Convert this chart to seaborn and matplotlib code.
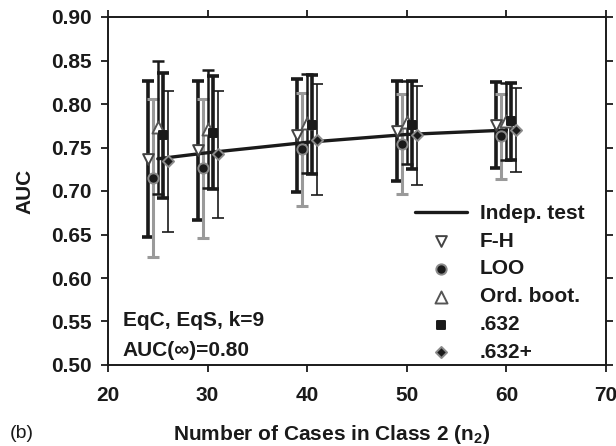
import matplotlib
matplotlib.use("Agg")
import matplotlib.pyplot as plt
import seaborn as sns
import numpy as np

# data
n2 = [25, 30, 40, 50, 60]
indep = [0.737, 0.744, 0.756, 0.765, 0.770]

fh_mean = [0.737, 0.747, 0.764, 0.769, 0.776]
fh_sd = [0.090, 0.080, 0.065, 0.057, 0.049]
loo_mean = [0.715, 0.726, 0.748, 0.754, 0.763]
loo_sd = [0.091, 0.080, 0.065, 0.057, 0.049]
ob_mean = [0.773, 0.771, 0.778, 0.779, 0.780]
ob_sd = [0.076, 0.068, 0.057, 0.048, 0.044]
p632_mean = [0.764, 0.767, 0.776, 0.776, 0.780]
p632_sd = [0.072, 0.065, 0.057, 0.051, 0.044]
p632p_mean = [0.734, 0.742, 0.759, 0.764, 0.770]
p632p_sd = [0.081, 0.073, 0.064, 0.057, 0.048]

x_ticks = [20, 30, 40, 50, 60, 70]
y_ticks = [0.50, 0.55, 0.60, 0.65, 0.70, 0.75, 0.80, 0.85, 0.90]

sns.set_theme(style="ticks")
plt.rcParams["font.family"] = ["Liberation Sans", "DejaVu Sans"]
plt.rcParams["font.weight"] = "bold"
plt.rcParams["mathtext.fontset"] = "custom"
plt.rcParams["mathtext.bf"] = "Liberation Sans:bold"
plt.rcParams["mathtext.rm"] = "Liberation Sans:bold"
plt.rcParams["mathtext.it"] = "Liberation Sans:bold"

fig = plt.figure(figsize=(6.16, 4.46), dpi=100)
ax = fig.add_axes([108 / 616, 1 - 365 / 446, 498 / 616, 348 / 446])

BLACK = "#1a1a1a"
GRAY = "#9a9a9a"
x = np.array(n2, dtype=float)

# (label, mean, sd, offset, bar color, bar lw, marker, size, face, edge)
series = [
    ("F-H", fh_mean, fh_sd, -1.0, BLACK, 2.6, "v", 60, "white", "#444444"),
    ("LOO", loo_mean, loo_sd, -0.5, GRAY, 2.2, "o", 55, BLACK, "#8a8a8a"),
    ("Ord. boot.", ob_mean, ob_sd, 0.0, BLACK, 1.8, "^", 75, "white", "#555555"),
    (".632", p632_mean, p632_sd, 0.5, BLACK, 2.6, "s", 30, BLACK, BLACK),
    (".632+", p632p_mean, p632p_sd, 1.0, BLACK, 1.2, "D", 32, BLACK, "#8a8a8a"),
]

for label, m, sd, off, col, lw, mk, s, fc, ec in series:
    ax.errorbar(x + off, m, yerr=sd, fmt="none", ecolor=col, elinewidth=lw,
                capsize=4, capthick=lw, zorder=2)

sns.lineplot(x=n2, y=indep, color=BLACK, lw=2.4, ax=ax, label="Indep. test",
             zorder=3)

for label, m, sd, off, col, lw, mk, s, fc, ec in series:
    sns.scatterplot(x=x + off, y=m, marker=mk, s=s, color=fc, edgecolor=ec,
                    linewidth=1.4, ax=ax, label=label, zorder=4)

ax.set_xlim(20, 70)
ax.set_ylim(0.50, 0.90)
ax.set_xticks(x_ticks)
ax.set_yticks(y_ticks)
ax.set_yticklabels([f"{v:.2f}" for v in y_ticks])
ax.tick_params(direction="out", top=True, right=True, length=5, width=1.3,
               labelsize=15, colors=BLACK)
ax.tick_params(axis="x", pad=10)
ax.tick_params(axis="y", pad=7)
for sp in ax.spines.values():
    sp.set_visible(True)
    sp.set_linewidth(1.4)
    sp.set_color(BLACK)

ax.set_xlabel(r"Number of Cases in Class 2 ($\mathbf{n_2}$)", fontsize=15,
              fontweight="bold", color=BLACK)
ax.xaxis.set_label_coords((332 - 108) / 498, (365 - 423) / 348)
ax.set_ylabel("AUC", fontsize=15, fontweight="bold", color=BLACK)
ax.yaxis.set_label_coords((34 - 108) / 498, 0.5)

ax.text(0.030, (365 - 320) / 348, "EqC, EqS, k=9", transform=ax.transAxes,
        fontsize=15, fontweight="bold", va="center", color=BLACK)
ax.text(0.030, (365 - 350) / 348, "AUC(∞)=0.80", transform=ax.transAxes,
        fontsize=15, fontweight="bold", va="center", color=BLACK)

fig.text(10 / 616, 1 - 433 / 446, "(b)", fontsize=14, fontweight="normal",
         va="center", color=BLACK)

leg = ax.legend(loc="upper left", bbox_to_anchor=(415 / 616, 1 - 204 / 446),
                bbox_transform=fig.transFigure, frameon=False, fontsize=15,
                handlelength=2.5, handletextpad=0.6, labelspacing=0.42,
                borderpad=0, borderaxespad=0)
for t in leg.get_texts():
    t.set_fontweight("bold")
    t.set_color(BLACK)

fig.savefig("out.png", dpi=100, facecolor="white")
